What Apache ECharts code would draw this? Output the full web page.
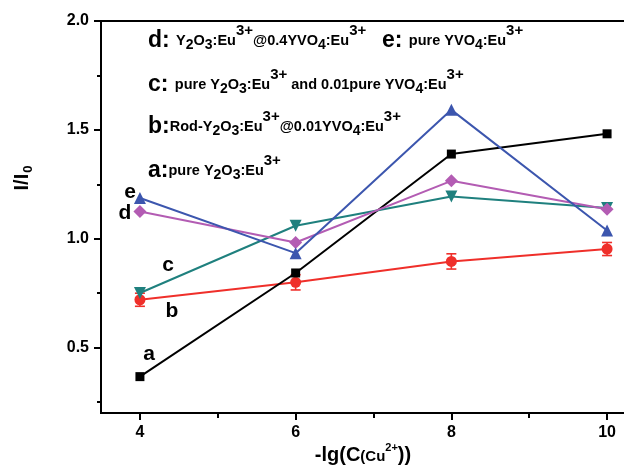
<!DOCTYPE html>
<html><head><meta charset="utf-8">
<script src="https://cdn.jsdelivr.net/npm/echarts@6/dist/echarts.min.js"></script>
<style>html,body{margin:0;padding:0;background:#fff}#c{width:624px;height:469px}</style>
</head><body><div id="c"></div>
<script>
// ---- data ----
const xVals = [4, 6, 8, 10];
const aVals = [0.367, 0.843, 1.389, 1.482];
const bVals = [0.720, 0.800, 0.896, 0.953];
const bErr  = [0.030, 0.035, 0.035, 0.030];
const cVals = [0.751, 1.060, 1.194, 1.141];
const dVals = [1.125, 0.983, 1.266, 1.136];
const eVals = [1.187, 0.934, 1.592, 1.038];
const xMajorTicks = [4, 6, 8, 10];
const xMinorTicks = [5, 7, 9];
const yMajorTicks = [0.5, 1.0, 1.5, 2.0];
const yMinorTicks = [0.25, 0.75, 1.25, 1.75];

const pair = (vals) => xVals.map((x, i) => [x, vals[i]]);
const errData = xVals.map((x, i) => [x, bVals[i] - bErr[i], bVals[i] + bErr[i]]);

const FONT = 'Liberation Sans, Arial, sans-serif';
const RED = '#ef2f2a', BLUE = '#3c56ae', MAG = '#b35cb3', TEAL = '#1f807e';

const rich = {
  L: {fontFamily: FONT, fontWeight: 'bold', fontSize: 23, color: '#000'},
  t: {fontFamily: FONT, fontWeight: 'bold', fontSize: 14.5, color: '#000'},
  sb: {fontFamily: FONT, fontWeight: 'bold', fontSize: 14, color: '#000', padding: [8, 0, 0, 0]},
  sp: {fontFamily: FONT, fontWeight: 'bold', fontSize: 15, color: '#000', padding: [0, 0, 20, 0]}
};
function txt(x, y, text) {
  return {type: 'text', x: x, y: y, z: 50,
    style: {text: text, rich: rich, verticalAlign: 'middle', align: 'left'}};
}
function letter(x, y, s) {
  return {type: 'text', x: x, y: y, z: 50,
    style: {text: s, fontFamily: FONT, fontWeight: 'bold', fontSize: 21, fill: '#000', align: 'center', verticalAlign: 'middle'}};
}

const axisLab = {fontFamily: FONT, fontWeight: 'bold', fontSize: 16, color: '#000'};

const option = {
  animation: false,
  backgroundColor: '#fff',
  grid: {left: 101, top: 21, right: -22, bottom: 56, show: true, borderColor: '#000', borderWidth: 2, outerBoundsMode: 'none', containLabel: false},
  xAxis: [
    {type: 'value', min: 3.5, max: 10.5, position: 'bottom',
      axisLine: {show: true, onZero: false, lineStyle: {color: '#000', width: 2}},
      axisTick: {show: true, inside: false, length: 7, lineStyle: {color: '#000', width: 2}, customValues: xMajorTicks},
      axisLabel: {show: true, margin: 12, customValues: xMajorTicks, ...axisLab},
      splitLine: {show: false}},
    {type: 'value', min: 3.5, max: 10.5, position: 'bottom', offset: 0,
      axisLine: {show: false},
      axisTick: {show: true, inside: false, length: 5, lineStyle: {color: '#000', width: 2}, customValues: xMinorTicks},
      axisLabel: {show: false}, splitLine: {show: false}}
  ],
  yAxis: [
    {type: 'value', min: 0.2, max: 2.0, position: 'left',
      axisLine: {show: true, onZero: false, lineStyle: {color: '#000', width: 2}},
      axisTick: {show: true, inside: false, length: 7, lineStyle: {color: '#000', width: 2}, customValues: yMajorTicks},
      axisLabel: {show: true, margin: 12, customValues: yMajorTicks, formatter: v => Number(v).toFixed(1), ...axisLab},
      splitLine: {show: false}},
    {type: 'value', min: 0.2, max: 2.0, position: 'left', offset: 0,
      axisLine: {show: false},
      axisTick: {show: true, inside: false, length: 4, lineStyle: {color: '#000', width: 2}, customValues: yMinorTicks},
      axisLabel: {show: false}, splitLine: {show: false}}
  ],
  series: [
    {type: 'custom', name: 'berr', xAxisIndex: 0, yAxisIndex: 0, z: 3, data: errData,
      renderItem: function (params, api) {
        const p1 = api.coord([api.value(0), api.value(1)]);
        const p2 = api.coord([api.value(0), api.value(2)]);
        const w = 5;
        const st = {stroke: RED, lineWidth: 1.6};
        return {type: 'group', children: [
          {type: 'line', shape: {x1: p1[0], y1: p1[1], x2: p2[0], y2: p2[1]}, style: st},
          {type: 'line', shape: {x1: p1[0] - w, y1: p1[1], x2: p1[0] + w, y2: p1[1]}, style: st},
          {type: 'line', shape: {x1: p2[0] - w, y1: p2[1], x2: p2[0] + w, y2: p2[1]}, style: st}
        ]};
      }},
    {type: 'line', name: 'b', data: pair(bVals), z: 3, symbol: 'circle', symbolSize: 11,
      itemStyle: {color: RED}, lineStyle: {color: RED, width: 2}},
    {type: 'line', name: 'a', data: pair(aVals), z: 4, symbol: 'rect', symbolSize: 9,
      itemStyle: {color: '#000'}, lineStyle: {color: '#000', width: 2}},
    {type: 'line', name: 'c', data: pair(cVals), z: 5, symbol: 'triangle', symbolRotate: 180, symbolSize: 12,
      itemStyle: {color: TEAL}, lineStyle: {color: TEAL, width: 2}},
    {type: 'line', name: 'd', data: pair(dVals), z: 6, symbol: 'diamond', symbolSize: 13,
      itemStyle: {color: MAG}, lineStyle: {color: MAG, width: 2}},
    {type: 'line', name: 'e', data: pair(eVals), z: 7, symbol: 'triangle', symbolSize: 12,
      itemStyle: {color: BLUE}, lineStyle: {color: BLUE, width: 2}}
  ],
  graphic: [
    txt(148, 41, '{L|d: }{t|Y}{sb|2}{t|O}{sb|3}{t|:Eu}{sp|3+}{t|@0.4YVO}{sb|4}{t|:Eu}{sp|3+}'),
    txt(382, 41, '{L|e: }{t|pure YVO}{sb|4}{t|:Eu}{sp|3+}'),
    txt(148, 85, '{L|c: }{t|pure Y}{sb|2}{t|O}{sb|3}{t|:Eu}{sp|3+}{t| and 0.01pure YVO}{sb|4}{t|:Eu}{sp|3+}'),
    txt(148, 127, '{L|b:}{t|Rod-Y}{sb|2}{t|O}{sb|3}{t|:Eu}{sp|3+}{t|@0.01YVO}{sb|4}{t|:Eu}{sp|3+}'),
    txt(148, 171, '{L|a:}{t|pure Y}{sb|2}{t|O}{sb|3}{t|:Eu}{sp|3+}'),
    letter(130, 192, 'e'),
    letter(125, 213, 'd'),
    letter(168, 265, 'c'),
    letter(172, 311, 'b'),
    letter(149, 354, 'a'),
    {type: 'text', x: 22, y: 178, rotation: Math.PI / 2, z: 50,
      style: {text: '{a|I/I}{s|0}', align: 'center', verticalAlign: 'middle',
        rich: {a: {fontFamily: FONT, fontWeight: 'bold', fontSize: 20, color: '#000'},
               s: {fontFamily: FONT, fontWeight: 'bold', fontSize: 13, color: '#000', padding: [12, 0, 0, 1]}}}},
    {type: 'text', x: 363, y: 455, z: 50,
      style: {text: '{a|-lg(C}{c|(Cu}{s|2+}{a|))}', align: 'center', verticalAlign: 'middle',
        rich: {a: {fontFamily: FONT, fontWeight: 'bold', fontSize: 20, color: '#000'},
               c: {fontFamily: FONT, fontWeight: 'bold', fontSize: 15, color: '#000', padding: [3, 0, 0, 0]},
               s: {fontFamily: FONT, fontWeight: 'bold', fontSize: 11, color: '#000', padding: [0, 0, 14, 0]}}}}
  ]
};
const chart = echarts.init(document.getElementById('c'), null, {renderer: 'canvas'});
chart.setOption(option);
</script></body></html>
